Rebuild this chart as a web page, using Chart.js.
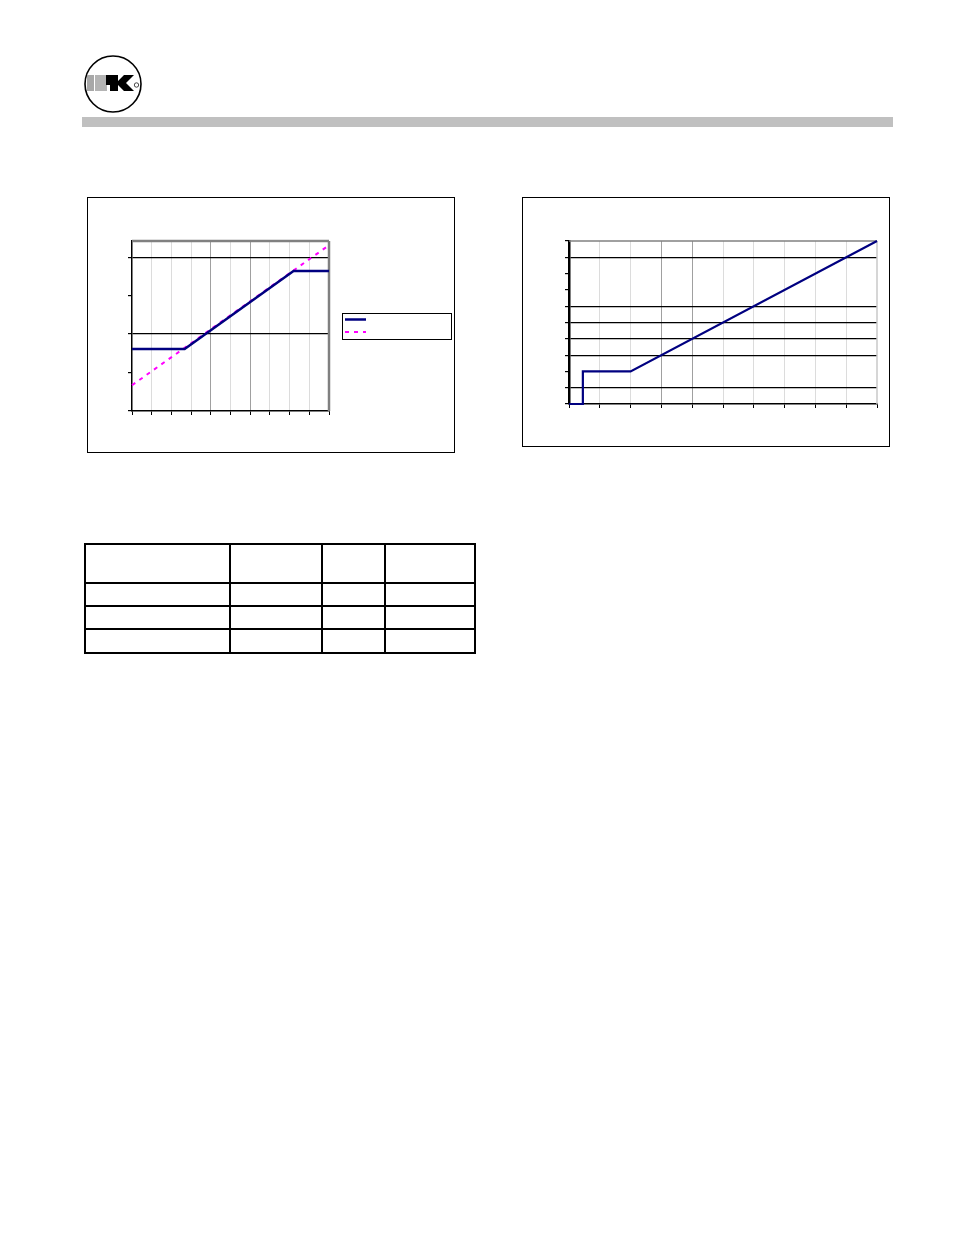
<!DOCTYPE html>
<html>
<head>
<meta charset="utf-8">
<script src="https://cdn.jsdelivr.net/npm/chart.js@4.4.1/dist/chart.umd.min.js"></script>
<style>
  body { margin: 0; width: 954px; height: 1235px; background: #fff; position: relative; font-family: "Liberation Sans", Arial, sans-serif; }
  .frame { position: absolute; border: 1px solid #000; box-sizing: border-box; }
  .frame canvas { display: block; }
  #bar { position: absolute; left: 82px; top: 117px; width: 811px; height: 10px; background: #c0c0c0; }
  #logo { position: absolute; left: 80px; top: 52px; }
  #spec { position: absolute; left: 84px; top: 543px; border-collapse: collapse; table-layout: fixed; }
  #spec td { border: 2px solid #000; padding: 0; }
</style>
</head>
<body>
<svg id="logo" width="66" height="66" viewBox="80 52 66 66">
  <circle cx="113" cy="84" r="28" fill="#fff" stroke="#000" stroke-width="1.6"/>
  <rect x="87" y="75" width="7" height="16" fill="#a8a8a8"/>
  <rect x="95" y="75" width="12" height="16" fill="#b4b4b4"/>
  <polygon points="106,75 111,75 113,77 113,83 111,85 106,85" fill="#000"/>
  <polygon points="110,75 118,75 118,81 124,75 134,75 126,83 134,91 124,91 118,85 118,91 110,91" fill="#000"/>
  <circle cx="136.5" cy="85" r="2.2" fill="none" stroke="#000" stroke-width="0.7"/>
</svg>
<div id="bar"></div>

<div class="frame" style="left:87px; top:197px; width:368px; height:256px;">
  <canvas id="left" width="366" height="254"></canvas>
</div>
<div class="frame" style="left:522px; top:197px; width:368px; height:250px;">
  <canvas id="right" width="366" height="248"></canvas>
</div>

<table id="spec">
  <colgroup><col style="width:145px"><col style="width:92px"><col style="width:63px"><col style="width:90px"></colgroup>
  <tr style="height:39px"><td></td><td></td><td></td><td></td></tr>
  <tr style="height:23px"><td></td><td></td><td></td><td></td></tr>
  <tr style="height:23px"><td></td><td></td><td></td><td></td></tr>
  <tr style="height:24px"><td></td><td></td><td></td><td></td></tr>
</table>

<script>
// left chart: clamped output vs ideal
const leftX = [0, 2.67, 8.2, 10];
const leftClamped = [1.61, 1.61, 3.64, 3.64];
const idealX = [0, 10];
const idealY = [0.67, 4.31];
const leftYMax = 4.42;
const leftGridY = [2, 4];          // black horizontal gridlines
const leftDarkX = [4, 6];          // darker vertical gridlines

// right chart: transfer curve
const rightX = [0, 0.45, 0.45, 2, 10];
const rightY = [0, 0, 2, 2, 10];
const rightGridY = [1, 3, 4, 5, 6, 9];
const rightDarkX = [3, 4];

const NAVY = '#000080';
const MAGENTA = '#ff00ff';

function pts(xs, ys) {
  return xs.map((x, i) => ({ x: x, y: ys[i] }));
}

// grey plot frame on top and right side
const plotFrame = {
  id: 'plotFrame',
  beforeDatasetsDraw(chart, args, opts) {
    const a = chart.chartArea;
    const ctx = chart.ctx;
    ctx.save();
    ctx.lineWidth = opts.width || 2;
    ctx.strokeStyle = opts.top || '#808080';
    ctx.beginPath();
    ctx.moveTo(a.left, a.top);
    ctx.lineTo(a.right, a.top);
    ctx.stroke();
    ctx.strokeStyle = opts.right || '#808080';
    ctx.beginPath();
    ctx.moveTo(a.right, a.top);
    ctx.lineTo(a.right, a.bottom);
    ctx.stroke();
    ctx.restore();
  }
};

// boxed legend with line samples only
const boxLegend = {
  id: 'boxLegend',
  afterDraw(chart, args, opts) {
    if (!opts.show) return;
    const a = chart.chartArea;
    const ctx = chart.ctx;
    const x = a.right + 13, y = a.top + 72, w = 109, h = 26;
    ctx.save();
    ctx.fillStyle = '#fff';
    ctx.fillRect(x, y, w, h);
    ctx.strokeStyle = '#000';
    ctx.lineWidth = 1;
    ctx.strokeRect(x + 0.5, y + 0.5, w, h);
    chart.data.datasets.forEach((ds, i) => {
      const ly = y + 6.5 + i * 12.5;
      ctx.strokeStyle = ds.borderColor;
      ctx.lineWidth = ds.borderWidth;
      ctx.setLineDash(ds.borderDash || []);
      ctx.beginPath();
      ctx.moveTo(x + 3, ly);
      ctx.lineTo(x + 24, ly);
      ctx.stroke();
    });
    ctx.restore();
  }
};

function intTicks(scale) {
  scale.ticks = scale.ticks.filter(t => Number.isInteger(t.value));
}

function lineSet(data, color, width, dash) {
  return {
    data: data,
    showLine: true,
    borderColor: color,
    backgroundColor: color,
    borderWidth: width,
    borderDash: dash || [],
    pointRadius: 0,
    tension: 0,
    fill: false,
    clip: 3
  };
}

new Chart(document.getElementById('left'), {
  type: 'scatter',
  data: {
    datasets: [
      lineSet(pts(leftX, leftClamped), NAVY, 2.5),
      lineSet(pts(idealX, idealY), MAGENTA, 2, [4, 5])
    ]
  },
  options: {
    responsive: false,
    animation: false,
    layout: { padding: { left: 40, right: 125, top: 43, bottom: 37 } },
    plugins: {
      legend: { display: false },
      tooltip: { enabled: false },
      plotFrame: { width: 2.5, top: '#808080', right: '#808080' },
      boxLegend: { show: true }
    },
    scales: {
      x: {
        type: 'linear', min: 0, max: 10,
        afterBuildTicks: intTicks,
        ticks: { stepSize: 1, display: false },
        border: { display: true, color: '#000', width: 1.5 },
        grid: {
          drawTicks: true, tickLength: 4, tickColor: '#000', lineWidth: 1,
          color: c => (c.index === 0 || c.index === 10) ? 'rgba(0,0,0,0)' :
            (leftDarkX.includes(c.tick.value) ? '#a0a0a0' : '#dcdcdc')
        }
      },
      y: {
        type: 'linear', min: 0, max: leftYMax,
        afterBuildTicks: intTicks,
        ticks: { stepSize: 1, display: false },
        border: { display: true, color: '#000', width: 1.5 },
        grid: {
          drawTicks: true, tickLength: 4, tickColor: '#000', lineWidth: 1.2,
          color: c => leftGridY.includes(c.tick.value) ? '#000' : 'rgba(0,0,0,0)'
        }
      }
    }
  },
  plugins: [plotFrame, boxLegend]
});

new Chart(document.getElementById('right'), {
  type: 'scatter',
  data: {
    datasets: [lineSet(pts(rightX, rightY), NAVY, 2.2)]
  },
  options: {
    responsive: false,
    animation: false,
    layout: { padding: { left: 42, right: 12, top: 43, bottom: 38 } },
    plugins: {
      legend: { display: false },
      tooltip: { enabled: false },
      plotFrame: { width: 1.5, top: '#808080', right: '#c8c8c8' },
      boxLegend: { show: false }
    },
    scales: {
      x: {
        type: 'linear', min: 0, max: 10,
        ticks: { stepSize: 1, display: false },
        border: { display: true, color: '#000', width: 1.5 },
        grid: {
          drawTicks: true, tickLength: 4, tickColor: '#000', lineWidth: 1,
          color: c => (c.index === 0 || c.index === 10) ? 'rgba(0,0,0,0)' :
            (rightDarkX.includes(c.tick.value) ? '#a0a0a0' : '#dcdcdc')
        }
      },
      y: {
        type: 'linear', min: 0, max: 10,
        ticks: { stepSize: 1, display: false },
        border: { display: true, color: '#000', width: 2.5 },
        grid: {
          drawTicks: true, tickLength: 4, tickColor: '#000', lineWidth: 1.2,
          color: c => rightGridY.includes(c.tick.value) ? '#000' : 'rgba(0,0,0,0)'
        }
      }
    }
  },
  plugins: [plotFrame, boxLegend]
});
</script>
</body>
</html>
